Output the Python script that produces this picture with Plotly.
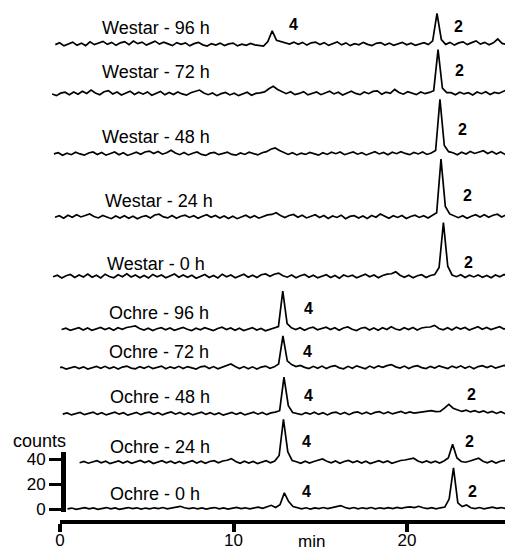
import numpy as np
import plotly.graph_objects as go

# ---------------- data (counts, sampled every STEP minutes) ----------------
STEP = 0.25

trace_labels = ["Westar - 96 h", "Westar - 72 h", "Westar - 48 h", "Westar - 24 h",
                "Westar - 0 h", "Ochre - 96 h", "Ochre - 72 h", "Ochre - 48 h",
                "Ochre - 24 h", "Ochre - 0 h"]

start_times = [-0.27, -0.46, -0.35, -0.29, -0.40, 0.09, -0.15, 0.16, 1.13, 0.43]

westar_96h = [0.0, 1.5, -1.0, 0.8, 2.0, -0.5, 1.2, -0.8, 2.2, 0.0,
              1.0, 2.6, 0.2, 1.8, -0.6, 1.4, 2.4, 0.0, 2.8, 0.8,
              2.0, -0.4, 1.2, 2.8, 0.4, 2.0, 0.6, -0.8, 1.6, 0.2,
              1.4, -1.0, 0.8, 1.8, -0.2, -1.2, 0.8, -0.4, 1.2, -0.8,
              0.6, 1.2, -1.0, 0.4, -0.6, 1.0, -0.2, -1.0, -1.2, 2.5,
              11, 3.5, 2.5, 1.5, 0.4, 2.0, 0.2, 1.8, -0.4, 1.4,
              2.0, 0.0, 1.6, -0.6, 1.0, 2.2, -0.2, 1.4, -0.8, 0.8,
              -0.2, 1.8, 0.2, -0.8, 1.0, 1.6, -0.4, 1.2, -0.6, 0.6,
              1.8, -0.2, 1.2, -0.6, 0.8, 1.6, 0.0, 3.0, 25, 4.0,
              0.2, 1.8, -0.4, 1.4, 2.2, 0.0, 1.6, 3.0, 0.4, 1.8,
              -0.2, 1.4, 4.5, 1.0, 0.0, 1.8, 0.4]

westar_72h = [0.4, -1.0, 1.0, 1.8, -0.2, 2.0, 0.2, 2.6, 0.8, 3.5,
              1.2, -0.2, 2.2, 3.0, 0.4, 2.0, -0.4, 1.2, 2.6, 0.0,
              1.8, 0.2, 2.0, -0.6, 1.0, 2.4, -0.2, 1.6, 0.0, 2.0,
              0.4, -0.6, 1.4, 2.2, 3.5, 1.2, -0.2, 1.2, -1.0, 0.6,
              1.6, -0.4, 1.0, -1.0, 0.4, 1.8, -0.6, 0.8, 1.2, 2.0,
              4.5, 6.5, 4.0, 2.0, 0.6, 2.2, -0.2, 0.8, 2.2, -0.4,
              0.6, 2.0, -0.2, 1.2, 2.6, 0.4, 1.8, -0.4, 1.2, 2.6,
              0.8, -0.2, 2.0, 0.6, 2.4, 2.8, 0.2, 1.8, 0.8, 4.0,
              1.6, 0.2, 2.2, 1.0, -0.2, 2.0, 0.6, 1.6, 3.0, 36,
              5.0, 1.5, 1.4, -0.2, 1.8, 0.4, 1.4, -0.4, 2.0, 0.6,
              2.2, 0.0, 1.6, 0.8, 2.4, 4.0, 1.2, 0.4]

westar_48h = [0.2, 1.2, -0.8, 0.8, -0.4, 1.6, 0.2, -0.8, 1.0, 1.8,
              -0.2, 1.4, -0.8, 0.6, 1.8, -0.4, 1.2, -1.0, 0.4, 1.6,
              0.0, 1.8, 2.5, 0.6, 2.2, 0.0, 1.2, 3.2, 1.0, -0.4,
              1.4, -0.6, 0.8, 1.8, -0.2, -1.0, 0.8, 1.4, -0.4, 0.8,
              1.6, -0.2, -0.8, 1.0, -0.2, 1.6, 0.4, -0.6, 1.2, 2.0,
              4.0, 5.0, 3.0, 1.2, -0.2, 1.2, -0.6, 0.8, -0.2, 1.4,
              0.2, -0.8, 1.2, -0.2, 1.6, 0.4, 1.8, -0.4, 0.8, 1.8,
              0.0, 1.2, -0.6, 1.0, 2.0, 0.2, 1.4, -0.4, 1.6, 0.4,
              2.0, 0.6, -0.4, 1.4, 0.2, 1.8, -0.2, 1.0, 3.0, 44,
              7.0, 2.0, 1.2, -0.4, 1.6, 0.2, 2.2, 0.6, 1.8, 2.8,
              0.6, 2.2, 0.2, 1.8, -0.2, 1.4, 2.4, 0.6]

westar_24h = [0.4, 1.6, -0.4, 2.0, 0.4, 2.4, 0.6, 2.0, 3.0, 1.0,
              -0.2, 1.8, 0.4, -0.8, 1.4, -0.2, 1.6, -0.4, 1.2, -0.8,
              0.8, 1.6, -0.2, 2.2, 2.8, 0.6, -0.2, 1.8, -0.4, 1.2,
              2.0, 0.2, 1.6, -0.4, 1.2, 2.4, 0.4, 1.8, -0.2, 1.4,
              -0.6, 1.2, -0.8, 0.8, 2.0, 0.0, 1.6, -0.4, 1.2, 2.2,
              2.6, 4.0, 1.8, 0.2, 1.8, 2.6, 0.4, 2.0, -0.2, 1.4,
              2.4, 0.2, 1.8, -0.6, 1.4, 0.2, 2.0, -0.8, 1.0, 1.6,
              -0.2, 1.4, -0.6, 1.8, 0.4, 3.0, 1.0, -0.4, 1.6, 0.2,
              1.8, -0.6, 1.0, 2.0, 0.2, 1.6, -0.2, 1.8, 4.0, 47,
              9.0, 3.0, 1.5, 0.0, 1.6, -0.4, 1.2, 2.4, 0.6, 2.4,
              0.4, 2.0, 2.8, 0.6, 2.2, 0.0, 1.8, 0.8]

westar_0h = [0.6, 1.8, -0.4, 1.4, 2.4, 0.0, 2.0, 0.4, 2.8, 0.2,
             1.8, -0.4, 2.6, 0.8, -0.2, 2.2, 0.6, 3.0, 0.4, 2.0,
             -0.2, 1.6, -0.4, 2.4, 0.6, 2.0, -0.2, 1.4, 2.8, 0.2,
             2.0, 0.2, 1.8, -0.6, 1.2, 2.4, 0.0, 1.6, -0.4, 2.6,
             0.6, 2.0, -0.2, 1.4, 2.6, 0.2, 1.8, 0.0, 2.2, 2.8,
             1.0, 2.6, 3.5, 1.4, 0.2, 2.0, -0.2, 1.4, 2.4, 0.2,
             1.8, -0.2, 1.2, 2.2, 0.0, 1.6, -0.6, 2.0, 0.6, 1.8,
             -0.2, 1.4, 2.6, 0.6, 2.0, -0.2, 1.6, 2.6, 3.0, 4.5,
             1.8, 0.2, 1.8, -0.2, 1.4, 2.2, 0.0, 1.6, 2.4, 8.0,
             44, 9.0, 2.0, 0.6, 2.2, 0.0, 1.8, 0.4, 2.0, 0.2,
             1.6, -0.2, 2.0, 0.6, 2.4, 0.4, 1.8, 0.0]

ochre_96h = [0.2, 1.2, -0.4, 0.8, 1.6, -0.2, 1.4, -0.4, 1.0, 1.8,
             0.2, 1.4, -0.4, 1.6, 0.4, 1.8, 2.4, 3.0, 1.0, -0.2,
             1.2, -0.6, 0.8, 1.6, 0.0, 1.4, -0.4, 1.0, 1.8, 0.4,
             -0.6, 1.2, 0.0, 1.6, 0.4, -0.6, 1.0, 2.0, 0.2, 1.4,
             -0.4, 1.2, -0.6, 0.8, 1.6, -0.2, 1.0, -0.8, 0.4, 1.2,
             2.5, 31, 5.0, 1.5, 0.2, 1.6, -0.4, 1.2, 2.0, 0.0,
             1.2, 2.0, 0.2, 1.6, -0.4, 1.4, 2.2, 0.4, -0.6, 1.2,
             1.8, -0.2, 1.4, -0.4, 1.6, 0.2, 2.4, 0.6, -0.2, 1.6,
             0.2, 1.8, -0.2, 1.4, 2.0, 2.2, 3.5, 1.0, 0.0, 1.6,
             -0.2, 2.0, 0.6, 1.8, -0.2, 1.4, 2.4, 0.4, 1.8, 0.2,
             1.6, 2.4, 0.6, 2.0, 0.2, 1.6]

ochre_72h = [0.2, 1.0, -0.6, 0.6, 1.4, -0.2, 1.2, -0.6, 0.8, 1.6,
             0.0, 1.6, -0.2, 1.2, -0.6, 1.0, 1.8, 0.2, -0.4, 1.4,
             0.0, 1.6, -0.2, 1.0, 1.8, -0.4, 1.2, 0.0, 1.6, -0.2,
             1.4, 0.4, -0.6, 1.2, 1.8, -0.2, 1.4, -0.4, 1.0, 2.0,
             3.5, 1.4, -0.2, 1.4, -0.4, 1.2, -0.6, 1.0, 1.8, 0.0,
             1.2, 3.5, 26, 6.0, 3.0, 1.5, 2.4, 0.8, -0.2, 1.6,
             0.0, 1.8, -0.2, 1.4, 2.2, 0.4, -0.4, 1.6, 0.0, 2.0,
             1.0, -0.4, 1.8, 0.2, 2.0, 0.8, 2.2, 3.0, 1.2, 0.2,
             1.8, -0.2, 1.4, 2.2, 0.6, -0.2, 1.6, 0.2, 2.0, 1.0,
             -0.2, 1.8, 0.4, 2.0, 0.0, 1.6, -0.4, 1.4, 2.2, 0.6,
             2.0, 0.2, 1.6, 2.4, 0.6, 2.0, 0.4]

ochre_48h = [0.2, 1.2, -0.4, 0.8, 1.6, -0.2, 1.0, 1.8, 0.0, 1.4,
             -0.4, 1.0, 1.8, 0.2, 1.4, -0.6, 0.8, 1.6, -0.2, 1.2,
             1.8, 0.0, 1.4, -0.4, 1.0, 2.0, 0.2, 1.6, -0.2, 1.2,
             -0.4, 1.0, 1.8, 0.0, 1.4, -0.2, 1.2, -0.6, 0.8, 1.6,
             0.0, 1.4, -0.4, 1.0, 1.8, 0.2, 1.6, -0.2, 1.2, 1.8,
             3.0, 30, 7.0, 1.5, 0.4, -0.2, 1.4, 0.2, 1.8, 0.0,
             1.4, -0.4, 1.2, 1.8, 0.2, 1.6, -0.2, 1.4, 2.0, 0.4,
             1.8, 0.2, 1.6, 2.2, 0.6, 2.0, 0.4, 1.6, 2.4, 0.8,
             2.0, 1.0, 1.6, 2.2, 2.6, 3.0, 2.2, 2.4, 5.0, 8.0,
             5.0, 3.6, 2.4, 3.4, 2.0, 3.0, 1.6, 2.8, 1.2, 2.4,
             0.8, 2.2, 0.6, 2.0, 0.4, 1.8]

ochre_24h = [0.2, 1.2, -0.2, 1.0, 1.8, 0.2, 1.4, -0.4, 0.8, 1.6,
             0.0, 1.4, -0.2, 1.2, 2.0, 0.4, 1.6, -0.4, 1.0, 1.8,
             0.2, 1.4, -0.2, 1.2, -0.4, 1.0, 1.8, 0.0, 1.4, -0.2,
             1.2, 1.8, 0.2, 1.6, 2.2, 3.5, 1.2, -0.2, 1.4, 0.0,
             1.2, -0.4, 1.0, 1.8, 0.2, 1.6, 6.0, 35, 9.0, 2.0,
             1.0, -0.2, 1.4, 0.0, 1.2, 2.0, 3.2, 1.4, 0.2, 1.6,
             -0.2, 1.2, 2.0, 0.4, 1.6, 0.0, 1.4, -0.4, 1.0, 1.8,
             0.4, 1.6, -0.2, 1.2, 2.0, 2.4, 3.0, 3.8, 1.6, 0.4,
             1.6, 0.2, 1.4, 0.0, 1.6, 4.0, 15, 4.0, 1.2, 0.6,
             1.6, 2.4, 3.8, 1.4, 0.2, 1.6, 0.0, 1.4, 2.0, 0.4,
             1.6, 0.6]

ochre_0h = [0.2, 0.8, -0.2, 0.6, 1.1, 0.1, 0.9, -0.2, 0.7, 1.2,
            0.2, 0.9, -0.2, 0.7, 1.2, 0.3, 1.0, -0.1, 0.8, 0.2,
            1.0, 0.3, 1.2, 0.1, 0.8, 1.2, 2.2, 1.0, 0.3, 1.0,
            0.2, 0.9, -0.1, 0.7, 1.2, 0.2, 0.9, 0.0, 0.8, 1.3,
            0.3, 1.0, 0.2, 1.1, 1.5, 0.6, 1.8, 3.0, 1.2, 3.5,
            13, 6.0, 2.0, 0.8, 0.2, 1.0, 0.0, 0.9, 0.4, 1.2,
            0.4, 1.1, 1.8, 2.8, 1.2, 0.4, 1.2, 0.2, 1.0, 0.4,
            1.2, 0.2, 1.0, 0.3, 1.1, 0.4, 1.3, 0.6, 1.4, 1.8,
            1.2, 2.2, 1.0, 0.3, 1.1, 0.2, 1.0, 1.6, 8.0, 33,
            5.0, 2.0, 3.2, 1.0, 0.4, 1.2, 0.2, 1.0, 1.5, 0.5,
            1.2, 0.4, 1.4, 0.6, 1.2]

series_values = [westar_96h, westar_72h, westar_48h, westar_24h, westar_0h,
                 ochre_96h, ochre_72h, ochre_48h, ochre_24h, ochre_0h]

# vertical stacking of the chromatograms (counts); the bottom one sits on the counts scale
stack_offsets = [373, 333, 285, 234, 186, 144, 113, 76, 37, 0]
# Westar traces start slightly before t=0 (skewed scan) -> drawn on the wider hidden time axis
trace_xaxis = ["x2", "x2", "x2", "x2", "x2", "x", "x", "x", "x", "x"]
trace_yaxis = ["y", "y", "y", "y", "y", "y", "y", "y", "y", "y2"]

# sample label positions (min, counts)
label_pos = [(2.31, 386.4), (2.31, 351.2), (2.31, 299.2), (2.48, 247.2), (2.59, 196.8),
             (2.71, 157.6), (2.71, 126.4), (2.77, 89.6), (2.77, 49.6), (2.77, 12.0)]

# peak number labels: (text, min, counts)
peak_labels = [("4", 13.45, 388.8), ("2", 22.98, 387.2),
               ("2", 23.04, 352.0),
               ("2", 23.22, 305.2),
               ("2", 23.46, 252.0),
               ("2", 23.52, 198.4),
               ("4", 14.3, 161.2),
               ("4", 14.24, 126.4),
               ("4", 14.3, 90.8), ("2", 23.69, 92.0),
               ("4", 14.18, 54.0), ("2", 23.63, 54.0),
               ("4", 14.18, 14.0), ("2", 23.75, 14.0)]

axis_ticks_x = [0, 10, 20]
axis_ticks_y = [0, 20, 40]

# ---------------- figure ----------------
W, H = 513, 552
ML, MR, MT, MB = 44, 8, 0, 40
pw = W - ML - MR
ph = H - MT - MB

fig = go.Figure()
for vals, t0, off, name, xa, ya in zip(series_values, start_times, stack_offsets,
                                       trace_labels, trace_xaxis, trace_yaxis):
    t = t0 + STEP * np.arange(len(vals))
    fig.add_trace(go.Scatter(x=t, y=np.array(vals) + off, mode="lines",
                             line=dict(color="black", width=1.7),
                             xaxis=xa, yaxis=ya, name=name, hoverinfo="skip"))

annotations = []
for (x, y), txt in zip(label_pos, trace_labels):
    annotations.append(dict(x=x, y=y, xref="x2", yref="y", text=txt, showarrow=False,
                            xanchor="left", yanchor="middle",
                            font=dict(size=18, color="black")))
for txt, x, y in peak_labels:
    annotations.append(dict(x=x, y=y, xref="x2", yref="y", text="<b>%s</b>" % txt,
                            showarrow=False, xanchor="center", yanchor="middle",
                            font=dict(size=16, color="black")))
annotations.append(dict(x=-13 / pw, y=54.4, xref="paper", yref="y", text="counts",
                        showarrow=False, xanchor="center", yanchor="middle",
                        font=dict(size=18, color="black")))
annotations.append(dict(x=14.52, y=-22 / ph, xref="x2", yref="paper", text="min",
                        showarrow=False, xanchor="center", yanchor="middle",
                        font=dict(size=17, color="black")))

fig.update_layout(
    width=W, height=H,
    margin=dict(l=ML, r=MR, t=MT, b=MB, pad=0),
    paper_bgcolor="white", plot_bgcolor="rgba(0,0,0,0)",
    showlegend=False,
    font=dict(family="Arial, Liberation Sans, Helvetica, sans-serif", size=17, color="black"),
    annotations=annotations,
    # visible time axis
    xaxis=dict(domain=[8 / pw, 1], range=[0, 26.11], anchor="y",
               showline=True, linewidth=4, linecolor="black",
               ticks="outside", ticklen=8, tickwidth=3.5, tickcolor="black",
               ticklabelstandoff=-6,
               tickvals=axis_ticks_x, showgrid=False, zeroline=False,
               tickfont=dict(size=17)),
    # hidden, wider time axis (same scale) for the Westar traces
    xaxis2=dict(domain=[0, 1], range=[-0.461, 26.11], anchor="y", visible=False),
    yaxis=dict(domain=[0, 1], range=[-8.8, 400.8], anchor="x", visible=False),
    # counts scale bar
    yaxis2=dict(domain=[8 / ph, 68 / ph], range=[-2.4, 45.6], anchor="free",
                position=10.75 / pw, showline=True, linewidth=4.5, linecolor="black",
                ticks="outside", ticklen=12, tickwidth=3, tickcolor="black",
                tickvals=axis_ticks_y, showgrid=False, zeroline=False,
                tickfont=dict(size=17)),
)

fig.write_html("out.html")
